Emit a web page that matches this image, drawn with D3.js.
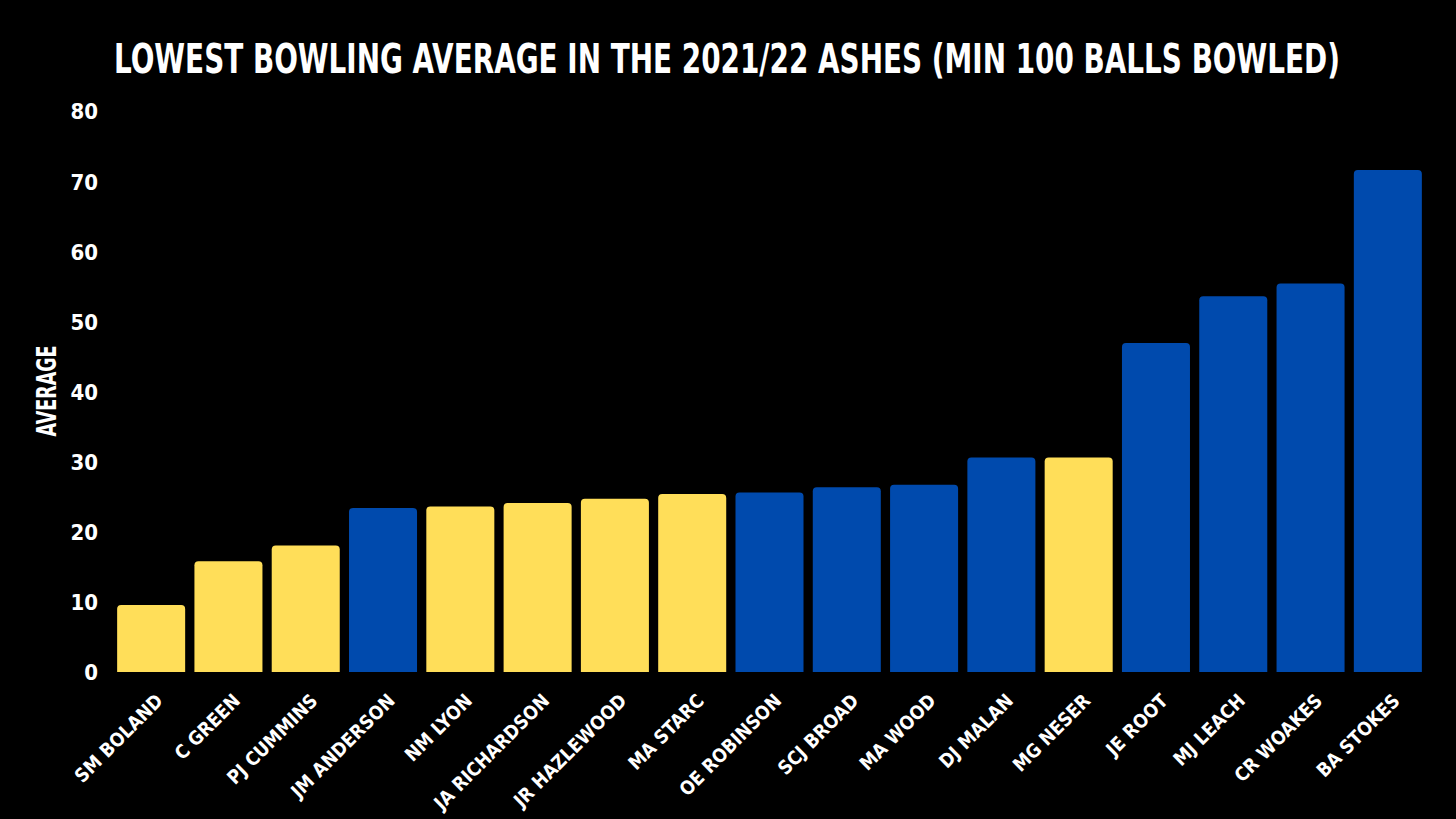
<!DOCTYPE html>
<html>
<head>
<meta charset="utf-8">
<script src="https://cdn.jsdelivr.net/npm/d3@7"></script>
<style>
  html, body { margin: 0; padding: 0; background: #000; }
  svg { display: block; }
</style>
</head>
<body>
<svg id="chart" width="1456" height="819"></svg>
<script>
const players = ["SM BOLAND","C GREEN","PJ CUMMINS","JM ANDERSON","NM LYON","JA RICHARDSON","JR HAZLEWOOD","MA STARC","OE ROBINSON","SCJ BROAD","MA WOOD","DJ MALAN","MG NESER","JE ROOT","MJ LEACH","CR WOAKES","BA STOKES"];
const averages = [9.55, 15.8, 18.05, 23.4, 23.6, 24.1, 24.7, 25.4, 25.6, 26.35, 26.7, 30.6, 30.6, 46.9, 53.6, 55.4, 71.6];
const teams = ["AUS","AUS","AUS","ENG","AUS","AUS","AUS","AUS","ENG","ENG","ENG","ENG","AUS","ENG","ENG","ENG","ENG"];
const yTicks = [0,10,20,30,40,50,60,70,80];
const teamColors = { AUS: "#FFDE59", ENG: "#004AAD" };

const svg = d3.select("#chart");
svg.append("rect").attr("width",1456).attr("height",819).attr("fill","#000");

const x = d3.scaleBand().domain(players).range([112.5, 1426.5]).paddingInner(0.12).paddingOuter(0.06);
const y = d3.scaleLinear().domain([0,80]).range([672, 111]);

const narrow = "'Liberation Sans Narrow','DejaVu Sans Condensed','Roboto Condensed',sans-serif";

// Title (condensed look: smaller font stretched vertically)
svg.append("text")
  .attr("transform", "translate(727,73) scale(1,1.37)")
  .attr("text-anchor","middle")
  .attr("fill","#fff")
  .attr("font-family", narrow)
  .attr("font-weight","bold")
  .attr("font-size", 30)
  .attr("textLength", 1226)
  .attr("lengthAdjust","spacingAndGlyphs")
  .text("LOWEST BOWLING AVERAGE IN THE 2021/22 ASHES (MIN 100 BALLS BOWLED)");

// Y axis label
svg.append("text")
  .attr("transform","translate(56,391) rotate(-90) scale(1,1.3)")
  .attr("text-anchor","middle")
  .attr("fill","#fff")
  .attr("font-family", narrow)
  .attr("font-weight","bold")
  .attr("font-size", 21)
  .attr("textLength", 91)
  .attr("lengthAdjust","spacingAndGlyphs")
  .text("AVERAGE");

// Y axis
const yAxis = d3.axisLeft(y).tickValues(yTicks).tickSize(0).tickPadding(0);
const yg = svg.append("g").attr("transform","translate(98,0)").call(yAxis);
yg.select(".domain").remove();
yg.selectAll("text")
  .attr("fill","#fff")
  .attr("font-family", narrow)
  .attr("font-weight","bold")
  .attr("font-size", 22)
  .attr("dy","0.36em");

// Bars with rounded top corners
const r = 4;
function barPath(d, i) {
  const x0 = x(players[i]), w = x.bandwidth();
  const yt = y(d), yb = y(0);
  return `M${x0},${yb} L${x0},${yt + r} Q${x0},${yt} ${x0 + r},${yt} L${x0 + w - r},${yt} Q${x0 + w},${yt} ${x0 + w},${yt + r} L${x0 + w},${yb} Z`;
}
svg.append("g").selectAll("path")
  .data(averages)
  .join("path")
  .attr("d", (d,i) => barPath(d,i))
  .attr("fill", (d,i) => teamColors[teams[i]]);

// X axis labels
const xAxis = d3.axisBottom(x).tickSize(0).tickPadding(0);
const xg = svg.append("g").attr("transform","translate(0,672)").call(xAxis);
xg.select(".domain").remove();
xg.selectAll("text")
  .attr("fill","#fff")
  .attr("font-family","'DejaVu Sans Condensed','DejaVu Sans',sans-serif")
  .attr("font-weight","bold")
  .attr("font-size", 19)
  .attr("text-anchor","end")
  .attr("y", 0).attr("dy", 0)
  .attr("transform","translate(13,30) rotate(-45)");
</script>
</body>
</html>
